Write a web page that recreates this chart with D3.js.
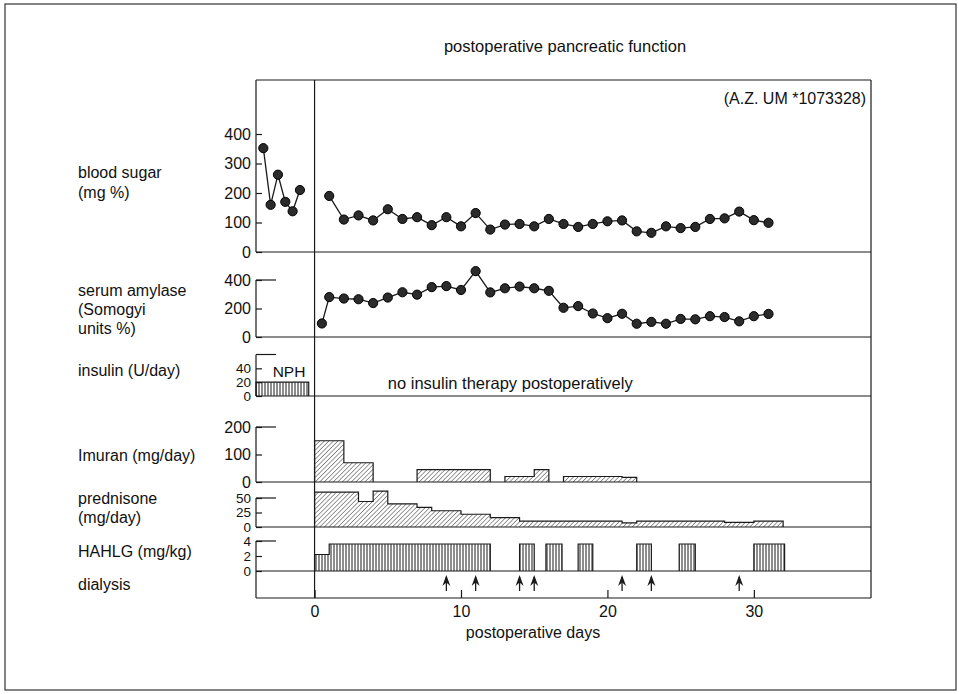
<!DOCTYPE html>
<html><head><meta charset="utf-8">
<script src="https://cdn.jsdelivr.net/npm/d3@7"></script>
<style>
body{margin:0;background:#fff}
svg{display:block}
text{font-family:"Liberation Sans",Arial,Helvetica,sans-serif;fill:#111}
</style></head><body>
<svg id="c" width="959" height="694"></svg>
<script>
// ---------------- data ----------------
const bloodSugarPreDays = [-3.5, -3, -2.5, -2, -1.5, -1];
const bloodSugarPre     = [352, 160, 262, 170, 138, 210];
const bloodSugarPostDays = [1,2,3,4,5,6,7,8,9,10,11,12,13,14,15,16,17,18,19,20,21,22,23,24,25,26,27,28,29,30,31];
const bloodSugarPost     = [190,110,124,107,145,112,118,91,118,87,132,76,93,95,87,112,95,85,95,104,107,70,65,87,81,85,112,114,137,108,99];
const amylaseDays = [0.5,1,2,3,4,5,6,7,8,9,10,11,12,13,14,15,16,17,18,19,20,21,22,23,24,25,26,27,28,29,30,31];
const amylase     = [95,280,270,265,238,277,314,297,350,357,330,462,313,342,354,342,324,205,217,165,132,163,93,106,93,127,124,146,140,110,146,162];
const insulinStart = [-4];
const insulinEnd   = [-0.4];
const insulinValue = [20];
const imuranStart = [0, 2, 7, 13, 15, 17, 21];
const imuranEnd   = [2, 4, 12, 15, 16, 21, 22];
const imuranValue = [150, 70, 45, 20, 45, 20, 17];
const prednisoneStart = [0, 3, 4, 5, 7, 8, 10, 12, 14, 21, 22, 28, 30];
const prednisoneEnd   = [3, 4, 5, 7, 8, 10, 12, 14, 21, 22, 28, 30, 32];
const prednisoneValue = [60, 44, 62, 40, 34, 28, 22, 16, 10, 7, 10, 8, 10];
const hahlgStart = [0, 1, 14, 15.8, 18, 22, 24.9, 30];
const hahlgEnd   = [1, 12, 15, 16.9, 19, 23, 26, 32.1];
const hahlgValue = [2.2, 3.6, 3.6, 3.6, 3.6, 3.6, 3.6, 3.6];
const dialysisDays = [9, 11, 14, 15, 21, 23, 29];
const dayTicks = [0, 10, 20, 30];
const bloodSugarTicks = [0, 100, 200, 300, 400];
const amylaseTicks = [0, 200, 400];
const insulinTicks = [0, 20, 40];
const imuranTicks = [0, 100, 200];
const prednisoneTicks = [0, 25, 50];
const hahlgTicks = [0, 2, 4];

// ---------------- layout ----------------
const svg = d3.select("#c");
const L = 256, R = 871, TOP = 80, BOT = 598;
const x = d3.scaleLinear().domain([-4, 38]).range([L, R]);
const ySugar = d3.scaleLinear().domain([0, 400]).range([252, 134]);
const yAmyl  = d3.scaleLinear().domain([0, 400]).range([337, 280]);
const yIns   = d3.scaleLinear().domain([0, 60]).range([396, 354.5]);
const yImu   = d3.scaleLinear().domain([0, 200]).range([482, 427]);
const yPred  = d3.scaleLinear().domain([0, 50]).range([527, 498]);
const yHah   = d3.scaleLinear().domain([0, 4]).range([571, 541]);
const ink = "#1a1a1a";

// outer page frame
svg.append("rect").attr("x",5).attr("y",4).attr("width",951).attr("height",686)
  .attr("fill","none").attr("stroke","#333").attr("stroke-width",1.2);

// patterns
const defs = svg.append("defs");
const pd = defs.append("pattern").attr("id","diag").attr("patternUnits","userSpaceOnUse")
  .attr("width",3.2).attr("height",3.2).attr("patternTransform","rotate(45)");
pd.append("line").attr("x1",0).attr("y1",0).attr("x2",0).attr("y2",3.2).attr("stroke",ink).attr("stroke-width",0.9);
const pv = defs.append("pattern").attr("id","vert").attr("patternUnits","userSpaceOnUse")
  .attr("width",3).attr("height",10);
pv.append("line").attr("x1",1).attr("y1",0).attr("x2",1).attr("y2",10).attr("stroke",ink).attr("stroke-width",1);

// frame lines
const line = (x1,y1,x2,y2,w=1.2) => svg.append("line").attr("x1",x1).attr("y1",y1).attr("x2",x2).attr("y2",y2)
  .attr("stroke",ink).attr("stroke-width",w);
line(L, TOP, R, TOP);
[252, 337, 396, 482, 527, 571, BOT].forEach(yy => line(L, yy, R, yy));
line(R, TOP, R, BOT);
line(x(0), TOP, x(0), BOT);
// left bracket axes
[[TOP,252],[280,337],[354.5,396],[427,482],[498,527],[541,BOT]].forEach(([a,b]) => line(L,a,L,b));
// long top ticks
[280, 354.5, 427, 498, 541].forEach(yy => line(L, yy, L + 20, yy));

// y axes
function yAxis(scale, ticks, fs) {
  const g = svg.append("g").attr("transform", `translate(${L},0)`)
    .call(d3.axisLeft(scale).tickValues(ticks).tickSize(-6).tickPadding(5).tickFormat(d3.format("d")));
  g.select(".domain").remove();
  g.selectAll(".tick line").attr("stroke", ink).attr("stroke-width", 1.2);
  g.selectAll("text").attr("font-size", fs).attr("font-family", '"Liberation Sans",Arial,sans-serif').attr("fill", ink);
}
yAxis(ySugar, bloodSugarTicks, 16);
yAxis(yAmyl, amylaseTicks, 16);
yAxis(yIns, insulinTicks, 13.5);
yAxis(yImu, imuranTicks, 16);
yAxis(yPred, prednisoneTicks, 13.5);
yAxis(yHah, hahlgTicks, 13.5);

// x axis
const gx = svg.append("g").attr("transform", `translate(0,${BOT})`)
  .call(d3.axisBottom(x).tickValues(dayTicks).tickSize(-8).tickPadding(8));
gx.select(".domain").remove();
gx.selectAll(".tick line").attr("stroke", ink).attr("stroke-width", 1.2);
gx.selectAll("text").attr("font-size", 16).attr("font-family", '"Liberation Sans",Arial,sans-serif').attr("fill", ink);
svg.append("text").attr("x", 533).attr("y", 638).attr("text-anchor","middle").attr("font-size",16).text("postoperative days");

// titles
svg.append("text").attr("x", 565).attr("y", 52).attr("text-anchor","middle").attr("font-size",16.5).text("postoperative pancreatic function");
svg.append("text").attr("x", 866).attr("y", 104).attr("text-anchor","end").attr("font-size",16).text("(A.Z. UM *1073328)");

// row labels
const rowLines = [
  ["blood sugar",178],["(mg %)",198],
  ["serum amylase",296],["(Somogyi",315],["units %)",334],
  ["insulin (U/day)",376],
  ["Imuran (mg/day)",461],
  ["prednisone",504],["(mg/day)",523],
  ["HAHLG (mg/kg)",557],
  ["dialysis",590]
];
rowLines.forEach(([t,yy]) => svg.append("text").attr("x",78).attr("y",yy).attr("font-size",16).text(t));

// line series with dots
function dotted(days, vals, y) {
  const pts = days.map((d,i) => [x(d), y(vals[i])]);
  svg.append("path").attr("d", d3.line()(pts)).attr("fill","none").attr("stroke",ink).attr("stroke-width",1.3);
  svg.append("g").selectAll("circle").data(pts).join("circle")
    .attr("cx", p => p[0]).attr("cy", p => p[1]).attr("r", 4.6)
    .attr("fill", "#2b2b2b").attr("stroke", "#000").attr("stroke-width", 1);
}
dotted(bloodSugarPreDays, bloodSugarPre, ySugar);
dotted(bloodSugarPostDays, bloodSugarPost, ySugar);
dotted(amylaseDays, amylase, yAmyl);

// step bar series
function steps(starts, ends, vals, y, fill) {
  const segs = starts.map((s,i) => ({s, e: ends[i], v: vals[i]}));
  svg.append("g").selectAll("rect").data(segs).join("rect")
    .attr("x", d => x(d.s)).attr("width", d => x(d.e) - x(d.s))
    .attr("y", d => y(d.v)).attr("height", d => y(0) - y(d.v))
    .attr("fill", fill);
  const groups = [];
  segs.forEach((d,i) => {
    if (i > 0 && Math.abs(segs[i-1].e - d.s) < 1e-6) groups[groups.length-1].push(d);
    else groups.push([d]);
  });
  groups.forEach(gr => {
    const pts = [[x(gr[0].s), y(0)]];
    gr.forEach(d => { pts.push([x(d.s), y(d.v)]); pts.push([x(d.e), y(d.v)]); });
    pts.push([x(gr[gr.length-1].e), y(0)]);
    svg.append("path").attr("d", d3.line()(pts)).attr("fill","none").attr("stroke",ink).attr("stroke-width",1.2);
  });
}
steps(insulinStart, insulinEnd, insulinValue, yIns, "url(#vert)");
steps(imuranStart, imuranEnd, imuranValue, yImu, "url(#diag)");
steps(prednisoneStart, prednisoneEnd, prednisoneValue, yPred, "url(#diag)");
steps(hahlgStart, hahlgEnd, hahlgValue, yHah, "url(#vert)");

svg.append("text").attr("x", 289).attr("y", 377).attr("text-anchor","middle").attr("font-size",15.5).text("NPH");
svg.append("text").attr("x", x(5)).attr("y", 389).attr("font-size",16.5).text("no insulin therapy postoperatively");

// dialysis arrows
const ga = svg.append("g").selectAll("g").data(dialysisDays).join("g")
  .attr("transform", d => `translate(${x(d)},575)`);
ga.append("line").attr("x1",0).attr("y1",2).attr("x2",0).attr("y2",16).attr("stroke",ink).attr("stroke-width",1.3);
ga.append("path").attr("d","M0,0 L-4,11 L0,7.5 L4,11 Z").attr("fill",ink);
</script>
</body></html>
